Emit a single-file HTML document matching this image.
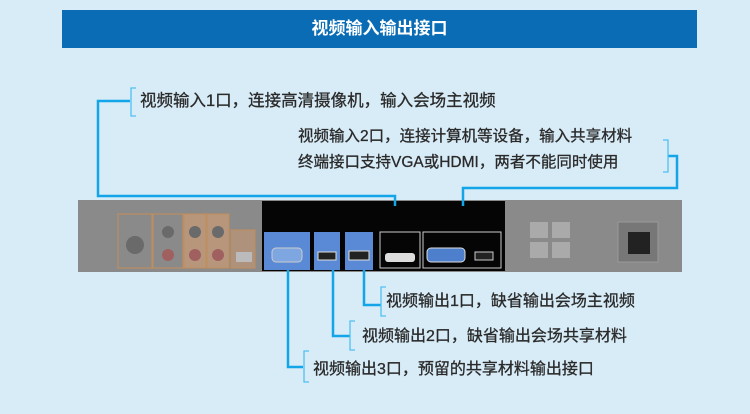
<!DOCTYPE html>
<html><head><meta charset="utf-8"><style>
body{margin:0;width:750px;height:414px;background:#d8ecf8;position:relative;overflow:hidden;font-family:"Liberation Sans","Noto Sans CJK SC",sans-serif}
.hdr{position:absolute;left:62px;top:10px;width:635px;height:38px;background:#0a6cb5;color:#fff;font-size:17px;font-weight:bold;text-align:center;line-height:38px}
.t{position:absolute;font-size:16px;color:#2a2a2a;white-space:nowrap;line-height:20px;-webkit-text-stroke:0.3px #2a2a2a}
</style></head><body>
<div class="hdr">视频输入输出接口</div>
<svg width="750" height="414" style="position:absolute;left:0;top:0">
<rect x="78" y="200" width="604" height="72" fill="#8a8a8a"/>
<rect x="262" y="201" width="243" height="70" fill="#050505"/>
<g fill="none" stroke="#c9905a" stroke-width="1.2" opacity="0.8">
<rect x="118" y="214" width="34" height="54"/><rect x="153" y="214" width="30" height="54"/>
<rect x="184" y="214" width="22" height="54" fill="#c49a78"/><rect x="207" y="214" width="22" height="54" fill="#c49a78"/>
<rect x="231" y="230" width="24" height="38" fill="#b89478"/>
</g>
<g fill="#6a6a6a"><circle cx="135" cy="245" r="9"/><circle cx="168" cy="232" r="6"/><circle cx="168" cy="255" r="6" fill="#a06060"/><circle cx="195" cy="232" r="6"/><circle cx="195" cy="255" r="6" fill="#a06060"/><circle cx="218" cy="232" r="6"/><circle cx="218" cy="255" r="6" fill="#a06060"/></g>
<rect x="236" y="252" width="16" height="10" fill="#bbb"/>
<rect x="264" y="232" width="46" height="38" fill="#5a8ad6"/>
<rect x="272" y="248" width="30" height="14" rx="4" fill="#7ea6e0" stroke="#ccc"/>
<rect x="314" y="232" width="26" height="38" fill="#5a8ad6"/>
<rect x="318" y="252" width="18" height="8" fill="#222" stroke="#ddd"/>
<rect x="345" y="232" width="28" height="38" fill="#5a8ad6"/>
<rect x="349" y="251" width="20" height="9" fill="#222" stroke="#ddd"/>
<rect x="380" y="232" width="40" height="36" fill="none" stroke="#ccc"/>
<rect x="385" y="253" width="30" height="9" rx="3" fill="#ddd"/>
<rect x="423" y="232" width="78" height="36" fill="none" stroke="#ccc"/>
<rect x="427" y="248" width="38" height="14" rx="4" fill="#4d7fcc" stroke="#ddd"/>
<rect x="475" y="252" width="18" height="8" fill="#222" stroke="#ccc"/>
<g fill="#aaa"><rect x="530" y="222" width="18" height="16"/><rect x="552" y="222" width="18" height="16"/><rect x="530" y="242" width="18" height="16"/><rect x="552" y="242" width="18" height="16"/></g>
<rect x="618" y="222" width="40" height="40" fill="#777" stroke="#999"/>
<rect x="628" y="232" width="22" height="22" fill="#222"/>
<g fill="none" stroke="#12a6e8" stroke-width="2.5">
<polyline points="130,101 98,101 98,196 395,196 395,206"/>
<polyline points="668,156 677,156 677,188 463,188 463,206"/>
<polyline points="288,270 288,367 303,367"/>
<polyline points="333,270 333,336 350,336"/>
<polyline points="364,270 364,305 381,305"/>
</g>
<g fill="none" stroke="#4fc0f0" stroke-width="1.3">
<polyline points="136,88 131,88 131,116 136,116"/>
<polyline points="663,140 668,140 668,172 663,172"/>
<polyline points="386,287 381,287 381,316 386,316"/>
<polyline points="355,321 350,321 350,350 355,350"/>
<polyline points="309,351 304,351 304,382 309,382"/>
</g>
</svg>
<div class="t" style="left:140px;top:91px;font-size:16.5px">视频输入1口，连接高清摄像机，输入会场主视频</div>
<div class="t" style="left:298px;top:127px;font-size:15.5px">视频输入2口，连接计算机等设备，输入共享材料</div>
<div class="t" style="left:298px;top:153px;font-size:15.5px">终端接口支持VGA或HDMI，两者不能同时使用</div>
<div class="t" style="left:386px;top:292px">视频输出1口，缺省输出会场主视频</div>
<div class="t" style="left:362px;top:327px">视频输出2口，缺省输出会场共享材料</div>
<div class="t" style="left:313px;top:360px">视频输出3口，预留的共享材料输出接口</div>
</body></html>
